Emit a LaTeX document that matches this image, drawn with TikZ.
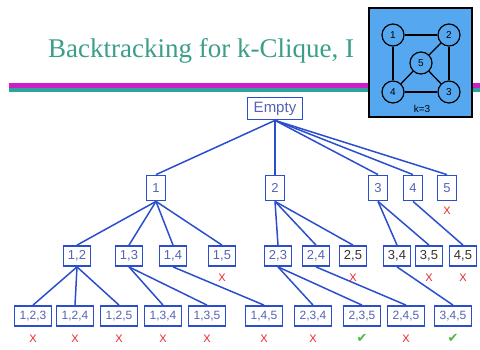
\documentclass[tikz,border=0pt]{standalone}
\usepackage{fontspec}
\setmainfont{Liberation Serif}
\setsansfont{Liberation Sans}
\newfontfamily\symfont{DejaVu Sans}
\usetikzlibrary{positioning}
\definecolor{treeblue}{HTML}{2B4FCC}
\definecolor{labelgray}{HTML}{5563B5}
\definecolor{titleteal}{HTML}{3A9E88}
\definecolor{rulemag}{HTML}{CC1FCC}
\definecolor{ruleteal}{HTML}{2FA39A}
\definecolor{insetblue}{HTML}{55A8F0}
\definecolor{failred}{HTML}{E8262A}
\definecolor{okgreen}{HTML}{4DB83A}
\tikzset{
  set/.style={
    draw=treeblue,
    line width=1.8pt,
    fill=white,
    inner sep=1pt,
    text=labelgray,
    font=\sffamily\fontsize{13}{13}\selectfont
  },
  root/.style={set, minimum width=55pt, minimum height=22pt, font=\sffamily\fontsize{15}{15}\selectfont},
  one/.style={set, minimum width=19pt, minimum height=25pt},
  two/.style={set, minimum width=27pt, minimum height=20pt},
  three/.style={set, minimum width=37pt, minimum height=20pt, font=\sffamily\fontsize{12}{12}\selectfont},
  dark/.style={text=black!80},
  edge/.style={draw=treeblue, line width=1.5pt},
  nomark/.style={text=failred, inner sep=0pt, font=\sffamily\fontsize{11}{11}\selectfont},
  okmark/.style={text=okgreen, inner sep=0pt, font=\symfont\fontsize{13}{13}\selectfont},
  vertex/.style={circle, draw=black, line width=1.2pt, fill=insetblue, minimum size=22pt, inner sep=0pt, font=\sffamily\fontsize{10}{10}\selectfont},
  gedge/.style={black, line width=1.3pt}
}
\newcommand{\bad}[2][6pt]{\node[nomark, below=#1 of #2] (#2-x) {X};}
\newcommand{\good}[2][6pt]{\node[okmark, below=#1 of #2] (#2-ok) {✔};}

\begin{document}
\begin{tikzpicture}[x=1pt, y=-1pt]
  \useasboundingbox (0,0) rectangle (480,349);
  \node[anchor=base west, inner sep=0pt, text=titleteal, font=\fontsize{27}{28}\selectfont] (title) at (48,57) {Backtracking for k-Clique, I};
  \fill[rulemag] (9,83) rectangle (480,87.5);
  \fill[ruleteal] (9,87.5) rectangle (480,92);

  \draw[black, line width=2pt, fill=insetblue] (369,8) rectangle (472,117);
  \node[vertex] (v1) at (393,35) {1};
  \node[vertex] (v2) at (449,35) {2};
  \node[vertex] (v5) at (421,63) {5};
  \node[vertex] (v4) at (393,92) {4};
  \node[vertex] (v3) at (449,92) {3};
  \draw[gedge] (v1) -- (v2);
  \draw[gedge] (v1) -- (v4);
  \draw[gedge] (v2) -- (v3);
  \draw[gedge] (v2) -- (v5);
  \draw[gedge] (v5) -- (v4);
  \draw[gedge] (v5) -- (v3);
  \draw[gedge] (v4) -- (v3);
  \node[font=\sffamily\fontsize{10}{10}\selectfont] (k) at (422,109) {k=3};

  \node[root] (e) at (275,108.5) {Empty};

  \node[one] (n1) at (156,188) {1};
  \node[one] (n2) at (275,188) {2};
  \node[one] (n3) at (378,188) {3};
  \node[one] (n4) at (413,188) {4};
  \node[one] (n5) at (447,188) {5};

  \node[two] (n12) at (77,256) {1,2};
  \node[two] (n13) at (129,256) {1,3};
  \node[two] (n14) at (173,256) {1,4};
  \node[two] (n15) at (222,256) {1,5};
  \node[two] (n23) at (278,256) {2,3};
  \node[two] (n24) at (316,256) {2,4};
  \node[two, dark] (n25) at (353,256) {2,5};
  \node[two, dark] (n34) at (397,256) {3,4};
  \node[two, dark] (n35) at (429,256) {3,5};
  \node[two, dark] (n45) at (463,256) {4,5};

  \node[three] (n123) at (33,316) {1,2,3};
  \node[three] (n124) at (75,316) {1,2,4};
  \node[three] (n125) at (119,316) {1,2,5};
  \node[three] (n134) at (163,316) {1,3,4};
  \node[three] (n135) at (207,316) {1,3,5};
  \node[three] (n145) at (264,316) {1,4,5};
  \node[three] (n234) at (313,316) {2,3,4};
  \node[three] (n235) at (362,316) {2,3,5};
  \node[three] (n245) at (406,316) {2,4,5};
  \node[three] (n345) at (453,316) {3,4,5};

  \draw[edge] (e.south) -- (n1.north);
  \draw[edge] (e.south) -- (n2.north);
  \draw[edge] (e.south) -- (n3.north);
  \draw[edge] (e.south) -- (n4.north);
  \draw[edge] (e.south) -- (n5.north);

  \draw[edge] (n1.south) -- (n12.north);
  \draw[edge] (n1.south) -- (n13.north);
  \draw[edge] (n1.south) -- (n14.north);
  \draw[edge] (n1.south) -- (n15.north);
  \draw[edge] (n2.south) -- (n23.north);
  \draw[edge] (n2.south) -- (n24.north);
  \draw[edge] (n2.south) -- (n25.north);
  \draw[edge] (n3.south) -- (n34.north);
  \draw[edge] (n3.south) -- (n35.north);
  \draw[edge] (n4.south) -- (n45.north);

  \draw[edge] (n12.south) -- (n123.north);
  \draw[edge] (n12.south) -- (n124.north);
  \draw[edge] (n12.south) -- (n125.north);
  \draw[edge] (n13.south) -- (n134.north);
  \draw[edge] (n13.south) -- (n135.north);
  \draw[edge] (n14.south) -- (n145.north);
  \draw[edge] (n23.south) -- (n234.north);
  \draw[edge] (n23.south) -- (n235.north);
  \draw[edge] (n24.south) -- (n245.north);
  \draw[edge] (n34.south) -- (n345.north);

  \bad[5pt]{n5}
  \bad[7pt]{n15}
  \bad[7pt]{n25}
  \bad[7pt]{n35}
  \bad[7pt]{n45}
  \bad[8pt]{n123}
  \bad[8pt]{n124}
  \bad[8pt]{n125}
  \bad[8pt]{n134}
  \bad[8pt]{n135}
  \bad[8pt]{n145}
  \bad[8pt]{n234}
  \good[7pt]{n235}
  \bad[8pt]{n245}
  \good[7pt]{n345}
\end{tikzpicture}
\end{document}
